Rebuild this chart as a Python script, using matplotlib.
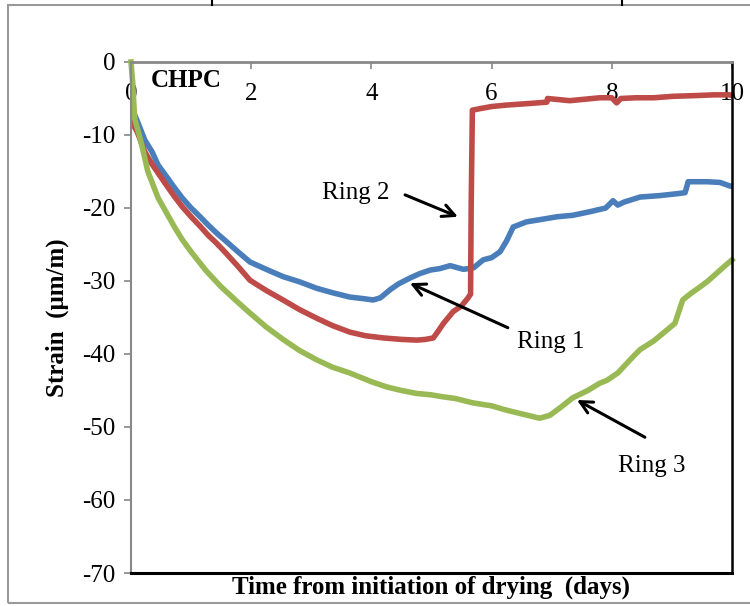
import matplotlib.pyplot as plt
from matplotlib.lines import Line2D
from matplotlib.patches import Rectangle

plt.rcParams['font.family'] = ['Liberation Serif', 'DejaVu Serif']
plt.rcParams['axes.unicode_minus'] = False

# Ring 1 (blue)
ring1_days = [0.0, 0.02, 0.1, 0.23, 0.35, 0.45, 0.6, 0.73, 0.85, 1.0, 1.15, 1.28, 1.42, 1.56, 1.78, 1.98,
              2.25, 2.53, 2.8, 3.09, 3.35, 3.64, 3.85, 4.03, 4.15, 4.31, 4.45, 4.64, 4.8, 4.98, 5.14,
              5.31, 5.53, 5.7, 5.86, 6.0, 6.14, 6.25, 6.36, 6.58, 6.8, 7.09, 7.35, 7.64, 7.9, 8.02,
              8.1, 8.2, 8.47, 8.8, 9.13, 9.22, 9.27, 9.58, 9.8, 9.97, 10.0]
ring1_strain = [-3.0, -6.5, -8.0, -10.7, -12.3, -14.1, -15.8, -17.3, -18.6, -20.0, -21.2, -22.3, -23.4, -24.4,
                -26.0, -27.4, -28.4, -29.4, -30.1, -31.0, -31.6, -32.2, -32.4, -32.6, -32.3, -31.2, -30.4,
                -29.6, -29.0, -28.5, -28.3, -27.9, -28.4, -28.2, -27.1, -26.8, -26.0, -24.5, -22.6, -21.9,
                -21.6, -21.2, -21.0, -20.5, -20.0, -19.0, -19.6, -19.2, -18.5, -18.3, -18.0, -17.9, -16.4,
                -16.4, -16.5, -17.0, -17.0]

# Ring 2 (red)
ring2_days = [0.0, 0.02, 0.05, 0.1, 0.23, 0.35, 0.45, 0.6, 0.73, 0.85, 1.0, 1.15, 1.28, 1.42, 1.56, 1.78,
              1.98, 2.25, 2.53, 2.8, 3.09, 3.35, 3.64, 3.9, 4.2, 4.5, 4.76, 4.9, 5.03, 5.1, 5.2, 5.36,
              5.5, 5.6, 5.65, 5.66, 5.68, 5.8, 6.0, 6.25, 6.6, 6.92, 6.93, 7.3, 7.8, 8.0, 8.08, 8.15,
              8.4, 8.7, 9.02, 9.4, 9.7, 9.97, 10.0]
ring2_strain = [-0.4, -7.7, -8.8, -9.5, -12.3, -14.0, -15.2, -17.0, -18.5, -19.8, -21.2, -22.5, -23.7, -24.8,
                -26.0, -28.0, -29.9, -31.3, -32.6, -33.9, -35.1, -36.1, -37.0, -37.5, -37.8, -38.0, -38.1,
                -38.0, -37.8, -37.0, -35.8, -34.2, -33.4, -32.4, -31.8, -20.0, -6.6, -6.4, -6.1, -5.9, -5.7,
                -5.5, -5.0, -5.3, -4.9, -4.9, -5.6, -5.0, -4.9, -4.9, -4.7, -4.6, -4.5, -4.5, -4.6]

# Ring 3 (green)
ring3_days = [0.0, 0.03, 0.06, 0.12, 0.18, 0.28, 0.45, 0.6, 0.73, 0.85, 1.0, 1.25, 1.5, 1.75, 1.98, 2.25,
              2.53, 2.8, 3.09, 3.35, 3.64, 4.0, 4.25, 4.5, 4.75, 5.0, 5.14, 5.4, 5.69, 6.0, 6.25, 6.5,
              6.8, 6.97, 7.15, 7.35, 7.6, 7.8, 7.92, 8.1, 8.35, 8.47, 8.7, 8.92, 9.05, 9.18, 9.3, 9.47,
              9.6, 9.75, 9.9, 10.0]
ring3_strain = [0.0, -3.0, -7.7, -9.5, -11.4, -15.0, -18.6, -20.8, -22.7, -24.3, -26.0, -28.6, -30.8, -32.7,
                -34.4, -36.3, -38.0, -39.5, -40.8, -41.8, -42.6, -43.8, -44.5, -45.0, -45.4, -45.6, -45.8,
                -46.1, -46.7, -47.1, -47.7, -48.2, -48.8, -48.4, -47.3, -46.0, -45.0, -44.0, -43.6, -42.6,
                -40.4, -39.4, -38.2, -36.7, -35.8, -32.6, -31.8, -30.8, -30.0, -28.9, -27.8, -27.1]

blue = '#4A7EBB'
red = '#BE4B48'
green = '#98B954'

fig = plt.figure(figsize=(7.5, 6.06), dpi=100)
ax = fig.add_axes([131 / 750, 1 - 573 / 606, (732 - 131) / 750, (573 - 62) / 606])

ax.plot(ring1_days, ring1_strain, color=blue, lw=4, solid_joinstyle='round')
ax.plot(ring2_days, ring2_strain, color=red, lw=4, solid_joinstyle='round')
ax.plot(ring3_days, ring3_strain, color=green, lw=4, solid_joinstyle='round', clip_on=False)

ax.set_xlim(0, 10)
ax.set_ylim(-70, 0)
ax.set_xticks(range(0, 11, 2))
ax.set_yticks(range(-70, 1, 10))

# x axis sits on the zero line at the top, labels hang below it
ax.tick_params(axis='x', direction='in', top=True, bottom=False, labeltop=True, labelbottom=False,
               length=5, width=1.2, color='#888888', pad=-31, labelsize=18)
ax.tick_params(axis='y', direction='out', length=5, width=1.2, color='#888888', pad=6, labelsize=18)

ax.spines['left'].set_color('#888888')
ax.spines['left'].set_linewidth(1.5)
ax.spines['top'].set_color('#888888')
ax.spines['top'].set_linewidth(2)
ax.spines['right'].set_color('black')
ax.spines['right'].set_linewidth(1.8)
ax.spines['bottom'].set_color('black')
ax.spines['bottom'].set_linewidth(2.2)

ax.set_ylabel('Strain  (\u03bcm/m)', fontsize=18, fontweight='bold', labelpad=10)
ax.set_xlabel('Time from initiation of drying  (days)', fontsize=18, fontweight='bold', labelpad=2)

ax.text(0.33, -2.6, 'CHPC', fontsize=18, fontweight='bold', va='center', ha='left')

# ring labels and their pointers
arrow = dict(arrowstyle='->', lw=2.2, color='black', mutation_scale=22, shrinkA=0, shrinkB=0)
ax.text(3.74, -17.9, 'Ring 2', fontsize=18, ha='center', va='center')
ax.annotate('', xy=(5.44, -21.2), xytext=(4.56, -18.2), arrowprops=arrow)
ax.text(6.99, -38.4, 'Ring 1', fontsize=18, ha='center', va='center')
ax.annotate('', xy=(4.64, -30.3), xytext=(6.27, -36.4), arrowprops=arrow)
ax.text(8.67, -55.4, 'Ring 3', fontsize=18, ha='center', va='center')
ax.annotate('', xy=(7.42, -46.3), xytext=(8.55, -51.4), arrowprops=arrow)

# outer frame of the figure panel
fig.add_artist(Rectangle((8 / 750, 1 - 603 / 606), 760 / 750, 598 / 606, transform=fig.transFigure,
                         fill=False, edgecolor='#999999', lw=1.5, clip_on=False))
for xp in (212, 622):
    fig.add_artist(Line2D([xp / 750, xp / 750], [1.0, 1 - 5 / 606], transform=fig.transFigure,
                          color='black', lw=1.5))

fig.savefig('out.png', dpi=100)
